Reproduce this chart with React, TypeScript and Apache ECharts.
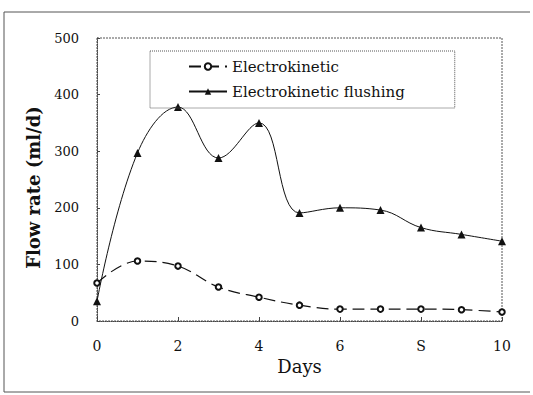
import React, { useEffect, useRef } from "react";
import * as echarts from "echarts";

const days = [0, 1, 2, 3, 4, 5, 6, 7, 8, 9, 10];
const electrokinetic = [67, 106, 97, 60, 42, 28, 21, 21, 21, 20, 16];
const flushing = [35, 297, 378, 288, 350, 191, 200, 196, 165, 153, 141];
const xTickLabels: Record<number, string> = { 0: "0", 2: "2", 4: "4", 6: "6", 8: "S", 10: "10" };
const seriesNames = ["Electrokinetic", "Electrokinetic flushing"];

const FONT = "DejaVu Serif";

export default function App() {
  const ref = useRef<HTMLDivElement>(null);
  useEffect(() => {
    const chart = echarts.init(ref.current!, null, { renderer: "svg" });
    chart.setOption({
      animation: false,
      backgroundColor: "#ffffff",
      grid: { left: 97, right: 31, top: 38, bottom: 74 },
      legend: {
        orient: "vertical",
        left: 150,
        top: 51,
        padding: [8, 50, 9, 38],
        itemGap: 10,
        itemWidth: 38,
        itemHeight: 8,
        borderColor: "#555",
        borderWidth: 1,
        borderType: "dotted",
        textStyle: { fontFamily: FONT, fontSize: 15, color: "#111" },
        data: seriesNames,
      },
      xAxis: {
        type: "value",
        min: 0,
        max: 10,
        interval: 2,
        name: "Days",
        nameLocation: "middle",
        nameGap: 34,
        nameTextStyle: { fontFamily: FONT, fontSize: 18, color: "#111" },
        axisLine: { show: true, lineStyle: { color: "#444", type: "dotted", width: 1 } },
        axisTick: { show: true, inside: true, length: 4, lineStyle: { color: "#444" } },
        axisLabel: {
          fontFamily: FONT,
          fontSize: 14,
          color: "#111",
          margin: 18,
          formatter: (v: number) => xTickLabels[v] ?? "",
        },
        splitLine: { show: false },
      },
      yAxis: {
        type: "value",
        min: 0,
        max: 500,
        interval: 100,
        name: "Flow rate (ml/d)",
        nameLocation: "middle",
        nameGap: 55,
        nameTextStyle: {
          fontFamily: FONT,
          fontSize: 18,
          fontWeight: "bold",
          color: "#111",
          padding: [0, 16, 0, 0],
        },
        axisLine: { show: true, lineStyle: { color: "#444", type: "dotted", width: 1 } },
        axisTick: { show: true, inside: true, length: 3, lineStyle: { color: "#444" } },
        axisLabel: { fontFamily: FONT, fontSize: 13, color: "#111", margin: 18 },
        splitLine: { show: false },
      },
      graphic: [
        {
          type: "polyline",
          shape: { points: [[530, 12], [4, 12], [4, 392], [530, 392]] },
          style: { stroke: "#555", lineWidth: 1, fill: null },
          silent: true,
        },
        {
          type: "rect",
          shape: { x: 97, y: 38, width: 405, height: 283 },
          style: { stroke: "#555", lineWidth: 1, lineDash: [2, 1], fill: null },
          silent: true,
          z: -1,
        },
      ],
      series: [
        {
          name: seriesNames[0],
          type: "line",
          data: days.map((d, i) => [d, electrokinetic[i]]),
          smooth: 0.4,
          symbol: "emptyCircle",
          symbolSize: 5.5,
          lineStyle: { color: "#111", width: 1.2, type: [12, 6] },
          itemStyle: { color: "#111", borderColor: "#111", borderWidth: 0.8 },
        },
        {
          name: seriesNames[1],
          type: "line",
          data: days.map((d, i) => [d, flushing[i]]),
          smooth: 0.4,
          symbol: "triangle",
          symbolSize: 8,
          lineStyle: { color: "#111", width: 1 },
          itemStyle: { color: "#111" },
        },
      ],
    });
    return () => chart.dispose();
  }, []);
  return (
    <div
      ref={ref}
      style={{ position: "fixed", left: 0, top: 0, width: 533, height: 395 }}
    />
  );
}
